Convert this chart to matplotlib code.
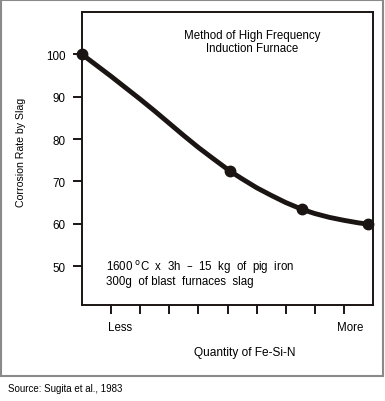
import matplotlib
matplotlib.use('Agg')
import matplotlib.pyplot as plt
from matplotlib.patches import Rectangle

plt.rcParams['font.family'] = ['Liberation Sans', 'DejaVu Sans']

# measured points (quantity of Fe-Si-N in arbitrary units, corrosion rate)
marker_x = [0.0, 5.09, 7.56, 9.83]
marker_y = [100.0, 72.4, 63.4, 59.9]

# curve
curve_x = [0.0, 0.5, 1.0, 1.5, 2.0, 2.5, 3.0, 3.5, 4.0, 4.5, 5.09, 5.5, 6.0, 6.5, 7.0,
           7.56, 8.0, 8.5, 9.0, 9.5, 9.83]
curve_y = [100.0, 97.4, 94.8, 92.1, 89.4, 86.6, 83.7, 80.8, 78.0, 75.4, 72.4, 70.6, 68.5,
           66.7, 65.0, 63.4, 62.4, 61.5, 60.8, 60.2, 59.9]

y_ticks = [50, 60, 70, 80, 90, 100]
x_ticks = [1, 2, 3, 4, 5, 6, 7, 8, 9]

ink = '#1a1412'

fig = plt.figure(figsize=(3.85, 4.02), dpi=100)
fig.patch.set_facecolor('white')

# grey frame round the whole picture
frame = Rectangle((1 / 385, (402 - 377) / 402), 382 / 385, 376 / 402,
                  transform=fig.transFigure, fill=False, edgecolor='#8a8a8a', linewidth=1.5)
fig.patches.append(frame)

ax = fig.add_axes([82 / 385, 96 / 402, 291 / 385, 293 / 402])
ax.plot(curve_x, curve_y, color=ink, linewidth=3.5, solid_capstyle='round',
        solid_joinstyle='round', zorder=3)
ax.plot(marker_x, marker_y, linestyle='none', marker='o', markersize=7.5, color=ink,
        clip_on=False, zorder=4)

ax.set_xlim(0, 10)
ax.set_ylim(40.8, 110)
ax.set_yticks(y_ticks)
ax.set_xticks(x_ticks)
ax.set_xticklabels([])
ax.tick_params(axis='both', direction='out', length=6.5, width=1.4, color=ink,
               labelsize=8.4, pad=5.5)
for s in ax.spines.values():
    s.set_linewidth(1.4)
    s.set_color(ink)

ax.text(1.3, 35.6, 'Less', ha='center', va='center', fontsize=8.3, clip_on=False)
ax.text(9.2, 35.6, 'More', ha='center', va='center', fontsize=8.3, clip_on=False)

ax.text(5.85, 103.1, 'Method of High Frequency\nInduction Furnace', ha='center', va='center',
        fontsize=8.3, linespacing=1.15)
ax.text(0.82, 50.0, '1600 $^{\\rm o}$C  x  3h  \u2013  15  kg  of  pig  iron', ha='left',
        va='center', fontsize=8.3)
ax.text(0.82, 46.4, '300g  of blast  furnaces  slag', ha='left', va='center', fontsize=8.3)

fig.text(245 / 385, 1 - 353 / 402, 'Quantity of Fe-Si-N', ha='center', va='center', fontsize=8.6)
fig.text(21 / 385, 1 - 152 / 402, 'Corrosion Rate by Slag', ha='center', va='center',
         rotation=90, fontsize=7.6)
fig.text(8 / 385, 1 - 389 / 402, 'Source: Sugita et al., 1983', ha='left', va='center',
         fontsize=7.0)

fig.savefig('out.png', dpi=100)
